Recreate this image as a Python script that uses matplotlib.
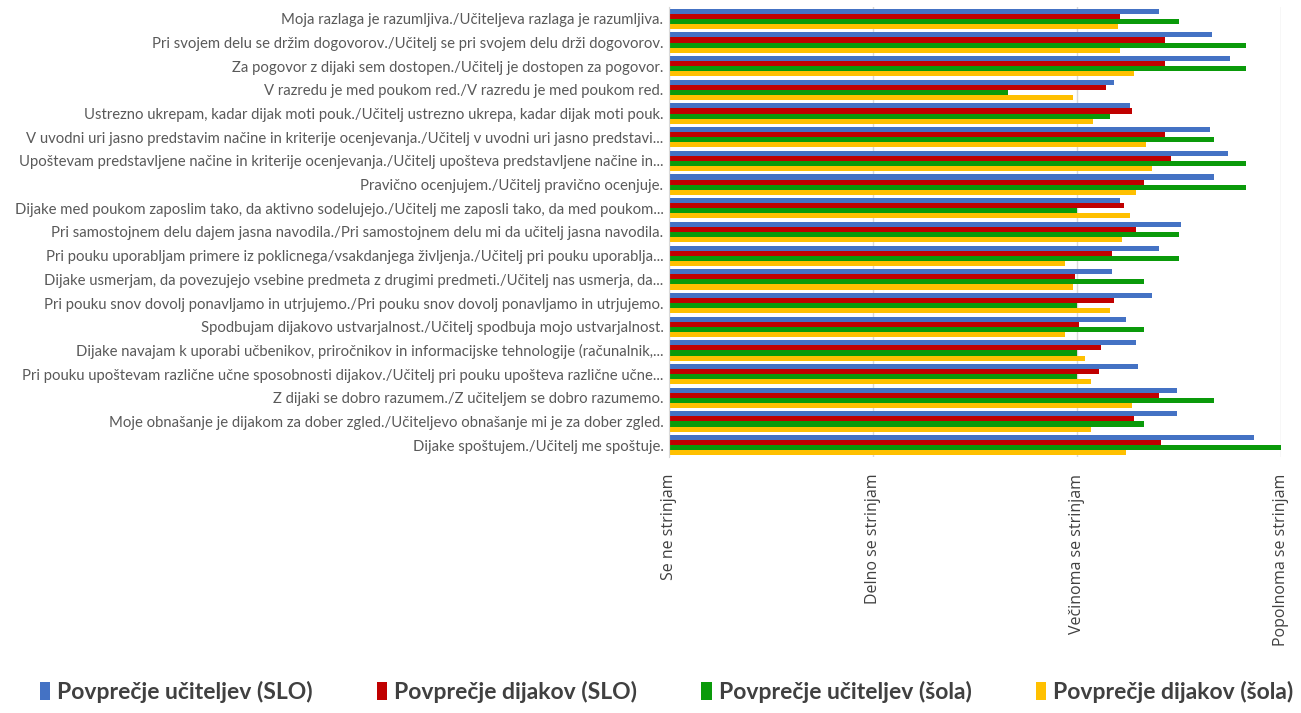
import matplotlib
matplotlib.use("Agg")
import matplotlib.pyplot as plt
import numpy as np
from matplotlib.patches import Patch

categories = [
    "Moja razlaga je razumljiva./Učiteljeva razlaga je razumljiva.",
    "Pri svojem delu se držim dogovorov./Učitelj se pri svojem delu drži dogovorov.",
    "Za pogovor z dijaki sem dostopen./Učitelj je dostopen za pogovor.",
    "V razredu je med poukom red./V razredu je med poukom red.",
    "Ustrezno ukrepam, kadar dijak moti pouk./Učitelj ustrezno ukrepa, kadar dijak moti pouk.",
    "V uvodni uri jasno predstavim načine in kriterije ocenjevanja./Učitelj v uvodni uri jasno predstavi...",
    "Upoštevam predstavljene načine in kriterije ocenjevanja./Učitelj upošteva predstavljene načine in...",
    "Pravično ocenjujem./Učitelj pravično ocenjuje.",
    "Dijake med poukom zaposlim tako, da aktivno sodelujejo./Učitelj me zaposli tako, da med poukom...",
    "Pri samostojnem delu dajem jasna navodila./Pri samostojnem delu mi da učitelj jasna navodila.",
    "Pri pouku uporabljam primere iz poklicnega/vsakdanjega življenja./Učitelj pri pouku uporablja...",
    "Dijake usmerjam, da povezujejo vsebine predmeta z drugimi predmeti./Učitelj nas usmerja, da...",
    "Pri pouku snov dovolj ponavljamo in utrjujemo./Pri pouku snov dovolj ponavljamo in utrjujemo.",
    "Spodbujam dijakovo ustvarjalnost./Učitelj spodbuja mojo ustvarjalnost.",
    "Dijake navajam k uporabi učbenikov, priročnikov in informacijske tehnologije (računalnik,...",
    "Pri pouku upoštevam različne učne sposobnosti dijakov./Učitelj pri pouku upošteva različne učne...",
    "Z dijaki se dobro razumem./Z učiteljem se dobro razumemo.",
    "Moje obnašanje je dijakom za dober zgled./Učiteljevo obnašanje mi je za dober zgled.",
    "Dijake spoštujem./Učitelj me spoštuje.",
]

series_names = [
    "Povprečje učiteljev (SLO)",
    "Povprečje dijakov (SLO)",
    "Povprečje učiteljev (šola)",
    "Povprečje dijakov (šola)",
]

ucitelji_slo = [3.40, 3.66, 3.75, 3.18, 3.26, 3.65, 3.74, 3.67, 3.21, 3.51,
                3.40, 3.17, 3.37, 3.24, 3.29, 3.30, 3.49, 3.49, 3.87]
dijaki_slo = [3.21, 3.43, 3.43, 3.14, 3.27, 3.43, 3.46, 3.33, 3.23, 3.29,
              3.17, 2.99, 3.18, 3.01, 3.12, 3.11, 3.40, 3.28, 3.41]
ucitelji_sola = [3.50, 3.83, 3.83, 2.66, 3.16, 3.67, 3.83, 3.83, 3.00, 3.50,
                 3.50, 3.33, 3.00, 3.33, 3.00, 3.00, 3.67, 3.33, 4.00]
dijaki_sola = [3.20, 3.21, 3.28, 2.98, 3.08, 3.34, 3.37, 3.29, 3.26, 3.22,
               2.94, 2.98, 3.16, 2.94, 3.04, 3.07, 3.27, 3.07, 3.24]

x_ticks = [1, 2, 3, 4]
x_labels = ["Se ne strinjam", "Delno se strinjam", "Večinoma se strinjam", "Popolnoma se strinjam"]

colors = ["#4472C4", "#C00000", "#0A9A0A", "#FFC000"]

fig = plt.figure(figsize=(13.01, 7.13), dpi=100)
ax = fig.add_axes([669/1301, 1-457/713, (1281-669)/1301, (457-7)/713])

values = [ucitelji_slo, dijaki_slo, ucitelji_sola, dijaki_sola]
n = len(categories)
y = np.arange(n)
h = 0.215
offsets = [-1.5*h, -0.5*h, 0.5*h, 1.5*h]
for vals, off, c, name in zip(values, offsets, colors, series_names):
    v = np.array(vals)
    ax.barh(y + off, v - 1, left=1, height=h, color=c, label=name)

ax.set_ylim(n - 0.5, -0.5)
ax.set_xlim(1, 4)
ax.set_yticks(y)
ax.set_yticklabels(categories, fontsize=10.75, color="#595959", family="Lato")
ax.set_xticks(x_ticks)
ax.set_xticklabels(x_labels, rotation=90, va="top", ha="center", fontsize=11.5,
                   color="#404040", family="Open Sans")
ax.tick_params(axis="y", length=0, pad=4)
ax.tick_params(axis="x", length=0, pad=12)
ax.grid(axis="x", color="#D9D9D9", linewidth=1)
ax.set_axisbelow(True)
for s in ["top", "right", "bottom"]:
    ax.spines[s].set_visible(False)
ax.spines["left"].set_color("#D9D9D9")

handles = [Patch(facecolor=c, label=nm) for c, nm in zip(colors, series_names)]
fig.legend(handles=handles, loc="center", bbox_to_anchor=(0.5 + 16/1301, 1-692/713), ncol=4,
           frameon=False, handlelength=0.45, handleheight=0.8, handletextpad=0.3,
           columnspacing=2.8, prop={"family": "Lato", "weight": "bold", "size": 16.5},
           labelcolor="#404040")

fig.savefig("out.png", dpi=100)
